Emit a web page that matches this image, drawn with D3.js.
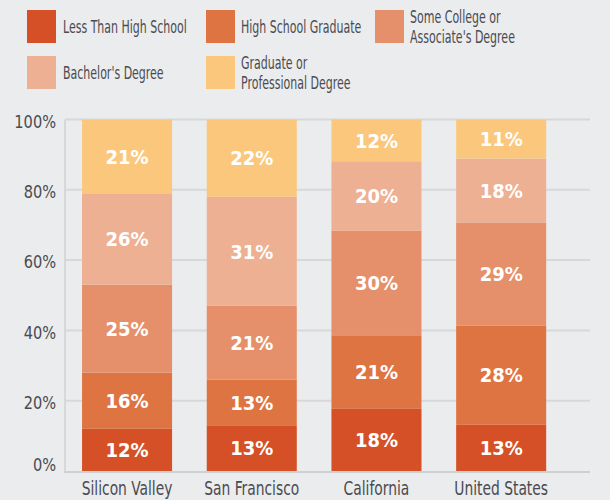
<!DOCTYPE html>
<html>
<head>
<meta charset="utf-8">
<script src="https://d3js.org/d3.v7.min.js"></script>
<style>
  body { margin: 0; background: #ebecee; overflow: hidden; }
  svg { display: block; font-family: "DejaVu Sans Condensed", "Liberation Sans", sans-serif; }
</style>
</head>
<body>
<div id="chart"></div>
<script>
    // data
    const regions = ["Silicon Valley", "San Francisco", "California", "United States"];
    const levels = ["Less Than High School", "High School Graduate", "Some College or Associate's Degree",
                    "Bachelor's Degree", "Graduate or Professional Degree"];
    const lessThanHS   = [12, 13, 18, 13];
    const hsGraduate   = [16, 13, 21, 28];
    const someCollege  = [25, 21, 30, 29];
    const bachelors    = [26, 31, 20, 18];
    const graduateProf = [21, 22, 12, 11];
    const yTicks = [0, 20, 40, 60, 80, 100];

    const colors = ["#d55026", "#df7443", "#e5906a", "#edb093", "#fbc77d"];
    const legendLines = [["Less Than High School"], ["High School Graduate"], ["Some College or", "Associate's Degree"],
                         ["Bachelor's Degree"], ["Graduate or", "Professional Degree"]];

    const width = 610, height = 500;
    const textColor = "#4a4b50";
    const series = [lessThanHS, hsGraduate, someCollege, bachelors, graduateProf];

    // rows for the stack, each normalised to its own total so bars reach 100%
    const rows = regions.map((r, i) => {
        const row = {region: r};
        const total = d3.sum(series, s => s[i]);
        levels.forEach((l, k) => { row[l] = series[k][i] / total * 100; row["lbl" + k] = series[k][i]; });
        return row;
    });
    const stacked = d3.stack().keys(levels)(rows);

    const x = d3.scaleBand().domain(regions).range([65, 590])
                .paddingInner(0.278).paddingOuter(0.244).align(0.28);
    const y = d3.scaleLinear().domain([0, 100]).range([471, 119.5]);

    const svg = d3.select("#chart").append("svg")
                  .attr("width", width).attr("height", height);

    // the original font is a condensed face, so squeeze text horizontally
    function squeeze(sel, px, py, s) {
        sel.attr("transform", (d, i) => `translate(${px(d, i)},${py(d, i)}) scale(${s},1)`);
    }

    // gridlines
    svg.append("g").selectAll("line").data(yTicks.filter(t => t > 0)).join("line")
       .attr("x1", 65).attr("x2", 590)
       .attr("y1", d => y(d)).attr("y2", d => y(d))
       .attr("stroke", "#d7d8da").attr("stroke-width", 2);

    // y axis line + labels
    svg.append("line").attr("x1", 65).attr("x2", 65).attr("y1", y(100)).attr("y2", y(0))
       .attr("stroke", "#d7d8da").attr("stroke-width", 2);
    svg.append("g").selectAll("text").data(yTicks).join("text")
       .attr("dy", "0.35em")
       .attr("text-anchor", "end").attr("font-size", 18).attr("fill", textColor)
       .text(d => d + "%")
       .call(squeeze, () => 56, d => y(d) + (d === 0 ? -6 : 2), 0.9);

    // bars
    const layer = svg.append("g").selectAll("g").data(stacked).join("g")
                     .attr("fill", (d, i) => colors[i]);
    layer.selectAll("rect").data(d => d).join("rect")
         .attr("x", d => x(d.data.region))
         .attr("width", x.bandwidth())
         .attr("y", d => y(d[1]))
         .attr("height", d => y(d[0]) - y(d[1]));

    // segment labels
    stacked.forEach((s, k) => {
        svg.append("g").selectAll("text").data(s).join("text")
           .attr("dy", "0.36em")
           .attr("text-anchor", "middle").attr("font-size", 20).attr("font-weight", "bold")
           .attr("fill", "#fff")
           .text(d => d.data["lbl" + k] + "%")
           .call(squeeze, d => x(d.data.region) + x.bandwidth() / 2, d => (y(d[0]) + y(d[1])) / 2, 1);
    });

    // baseline
    svg.append("line").attr("x1", 64).attr("x2", 590).attr("y1", y(0) + 1).attr("y2", y(0) + 1)
       .attr("stroke", "#cfd0d2").attr("stroke-width", 2);

    // category labels
    svg.append("g").selectAll("text").data(regions).join("text")
       .attr("text-anchor", "middle").attr("font-size", 20).attr("fill", textColor)
       .text(d => d)
       .call(squeeze, d => x(d) + x.bandwidth() / 2, () => 495, 0.77);

    // legend
    const legX = [27, 206, 375], legY = [10, 56];
    const leg = svg.append("g").selectAll("g").data(levels).join("g")
                   .attr("transform", (d, i) => `translate(${legX[i % 3]},${legY[Math.floor(i / 3)]})`);
    leg.append("rect").attr("width", 29).attr("height", 33).attr("fill", (d, i) => colors[i]);
    leg.each(function(d, i) {
        const lines = legendLines[i];
        const t = d3.select(this).append("text")
                    .attr("font-size", 18).attr("fill", textColor)
                    .attr("transform", `translate(${i % 3 === 0 ? 36 : 35},0) scale(0.68,1)`);
        lines.forEach((ln, j) => {
            t.append("tspan").attr("x", 0)
             .attr("y", 16.5 + (j - (lines.length - 1) / 2) * 20)
             .attr("dy", "0.35em").text(ln);
        });
    });
</script>
</body>
</html>
